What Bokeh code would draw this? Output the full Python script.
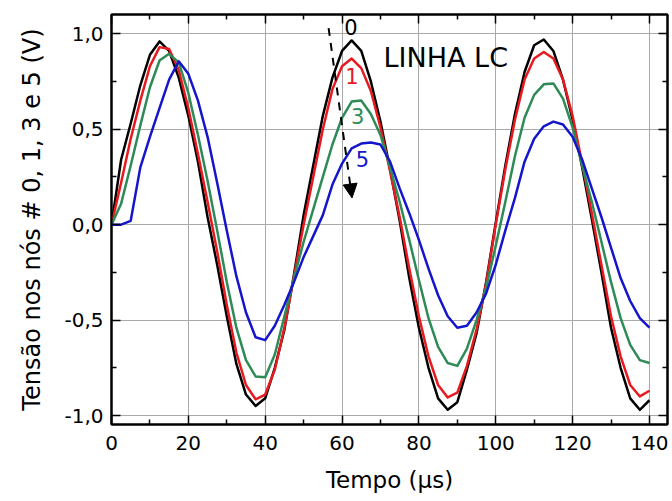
from bokeh.plotting import figure
from bokeh.models import (LinearAxis, FixedTicker, Range1d, Label, Arrow,
                          NormalHead, CustomJSTickFormatter, ColumnDataSource)
from bokeh.embed import file_html
from bokeh.resources import INLINE

# ---- data ----
tempo = [0, 2.5, 5, 7.5, 10, 12.5, 15, 17.5, 20, 22.5, 25, 27.5, 30, 32.5, 35,
         37.5, 40, 42.5, 45, 47.5, 50, 52.5, 55, 57.5, 60, 62.5, 65, 67.5, 70,
         72.5, 75, 77.5, 80, 82.5, 85, 87.5, 90, 92.5, 95, 97.5, 100, 102.5,
         105, 107.5, 110, 112.5, 115, 117.5, 120, 122.5, 125, 127.5, 130,
         132.5, 135, 137.5, 140]

no0 = [0.0, 0.34, 0.53, 0.73, 0.89, 0.96, 0.91, 0.77, 0.57, 0.33, 0.04, -0.21,
       -0.48, -0.73, -0.89, -0.95, -0.91, -0.75, -0.55, -0.26, 0.05, 0.31, 0.57,
       0.77, 0.91, 0.965, 0.91, 0.75, 0.54, 0.29, 0.02, -0.28, -0.54, -0.75,
       -0.91, -0.97, -0.93, -0.76, -0.57, -0.30, 0.01, 0.31, 0.58, 0.80, 0.94,
       0.97, 0.91, 0.76, 0.55, 0.30, 0.03, -0.25, -0.54, -0.75, -0.91, -0.97,
       -0.92]

no1 = [0.0, 0.22, 0.45, 0.65, 0.83, 0.93, 0.92, 0.81, 0.61, 0.37, 0.12, -0.14,
       -0.42, -0.67, -0.84, -0.915, -0.89, -0.76, -0.54, -0.27, 0.0, 0.25, 0.50,
       0.71, 0.83, 0.87, 0.82, 0.70, 0.51, 0.28, 0.04, -0.23, -0.48, -0.69,
       -0.84, -0.905, -0.88, -0.74, -0.55, -0.31, 0.0, 0.29, 0.55, 0.76, 0.87,
       0.905, 0.87, 0.76, 0.57, 0.32, 0.06, -0.21, -0.48, -0.69, -0.84, -0.90,
       -0.87]

no3 = [0.0, 0.11, 0.31, 0.52, 0.72, 0.86, 0.895, 0.85, 0.69, 0.47, 0.23, -0.03,
       -0.30, -0.54, -0.71, -0.795, -0.80, -0.68, -0.48, -0.28, -0.09, 0.08,
       0.25, 0.42, 0.56, 0.645, 0.65, 0.58, 0.47, 0.30, 0.12, -0.08, -0.29,
       -0.49, -0.64, -0.725, -0.74, -0.65, -0.50, -0.33, -0.11, 0.12, 0.36,
       0.56, 0.68, 0.735, 0.74, 0.66, 0.51, 0.31, 0.12, -0.09, -0.30, -0.49,
       -0.63, -0.71, -0.725]

no5 = [0.0, 0.0, 0.02, 0.30, 0.46, 0.61, 0.76, 0.856, 0.79, 0.65, 0.46, 0.22,
       -0.03, -0.27, -0.46, -0.59, -0.605, -0.53, -0.42, -0.30, -0.17, -0.06,
       0.05, 0.21, 0.32, 0.40, 0.425, 0.43, 0.42, 0.33, 0.19, 0.06, -0.08,
       -0.23, -0.37, -0.48, -0.54, -0.53, -0.46, -0.36, -0.21, -0.03, 0.14,
       0.33, 0.45, 0.515, 0.54, 0.525, 0.46, 0.34, 0.19, 0.04, -0.12, -0.28,
       -0.40, -0.49, -0.54]

x_major = [0, 20, 40, 60, 80, 100, 120, 140]
x_minor = [10, 30, 50, 70, 90, 110, 130]
y_major = [-1.0, -0.5, 0.0, 0.5, 1.0]
y_minor = [-0.75, -0.25, 0.25, 0.75]

series_names = ["0", "1", "3", "5"]
series_colors = ["#000000", "#e8191f", "#2e8b57", "#1515cc"]

FONT = "DejaVu Sans"

p = figure(width=672, height=501, output_backend="svg", toolbar_location=None,
           x_range=Range1d(0, 144.7), y_range=Range1d(-1.047, 1.101),
           min_border_left=111, min_border_right=5, min_border_top=14,
           min_border_bottom=77)
p.background_fill_color = "white"
p.border_fill_color = "white"
p.outline_line_color = "black"
p.outline_line_width = 2

xt = FixedTicker(ticks=x_major, minor_ticks=x_minor)
yt = FixedTicker(ticks=y_major, minor_ticks=y_minor)
fmt = CustomJSTickFormatter(code="return tick.toFixed(1).replace('.', ',');")
blank = CustomJSTickFormatter(code="return '';")

def style_axis(ax, labels=True):
    ax.axis_line_color = "black"
    ax.axis_line_width = 2
    ax.major_tick_line_color = "black"
    ax.minor_tick_line_color = "black"
    ax.major_tick_line_width = 1.5
    ax.minor_tick_line_width = 1.5
    ax.major_tick_in = 9
    ax.major_tick_out = 0
    ax.minor_tick_in = 5
    ax.minor_tick_out = 0
    ax.major_label_text_font = FONT
    ax.axis_label_text_font = FONT
    ax.axis_label_text_font_style = "normal"
    ax.axis_label_text_color = "black"
    ax.major_label_text_color = "black"
    if labels:
        ax.major_label_text_font_size = "20px"
    else:
        ax.formatter = blank
        ax.major_label_text_font_size = "2px"
        ax.major_label_standoff = 0

xa = p.xaxis[0]
xa.ticker = xt
style_axis(xa)
xa.major_label_standoff = 11
xa.axis_label = "Tempo (μs)"
xa.axis_label_text_font_size = "23px"
xa.axis_label_standoff = 14

ya = p.yaxis[0]
ya.ticker = yt
ya.formatter = fmt
style_axis(ya)
ya.major_label_standoff = 8
ya.axis_label = "Tensão nos nós # 0, 1, 3 e 5 (V)"
ya.axis_label_text_font_size = "24px"
ya.axis_label_standoff = 15

top = LinearAxis(ticker=xt)
style_axis(top, labels=False)
p.add_layout(top, "above")
right = LinearAxis(ticker=yt)
style_axis(right, labels=False)
p.add_layout(right, "right")

p.xgrid.ticker = xt
p.ygrid.ticker = yt
for g in (p.xgrid[0], p.ygrid[0]):
    g.grid_line_color = "#a9a9a9"
    g.grid_line_width = 1

src = ColumnDataSource(dict(t=tempo, n0=no0, n1=no1, n3=no3, n5=no5))
for col, c in zip(["n0", "n1", "n3", "n5"], series_colors):
    p.line("t", col, source=src, line_color=c, line_width=2.5,
           line_join="round")

# annotations
label_pos = [(62.3, 1.035), (62.6, 0.78), (64.1, 0.57), (65.3, 0.345)]
for name, c, (lx, ly) in zip(series_names, series_colors, label_pos):
    p.add_layout(Label(x=lx, y=ly, text=name, text_color=c, text_font=FONT,
                       text_font_size="21px", text_align="center",
                       text_baseline="middle"))

p.add_layout(Label(x=70.8, y=0.877, text="LINHA LC", text_color="black",
                   text_font=FONT, text_font_size="27px", text_align="left",
                   text_baseline="middle"))

arrow_start = (56.5, 1.03)
arrow_end = (62.6, 0.14)
p.add_layout(Arrow(x_start=arrow_start[0], y_start=arrow_start[1],
                   x_end=arrow_end[0], y_end=arrow_end[1],
                   line_color="black", line_width=2, line_dash="8 7",
                   end=NormalHead(size=14, fill_color="black",
                                  line_color="black", line_width=1)))

open("out.html", "w").write(file_html(p, INLINE))
